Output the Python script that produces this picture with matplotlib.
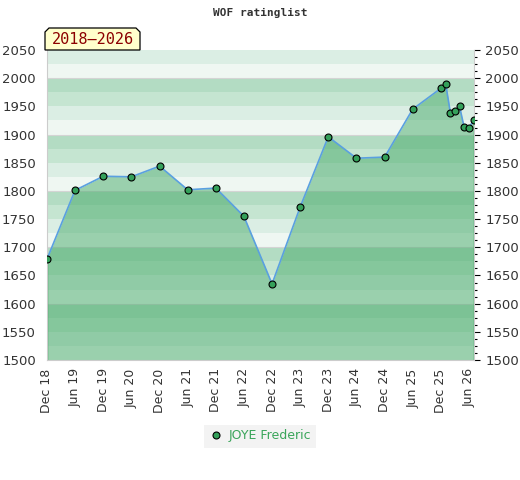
import datetime as dt
import matplotlib
matplotlib.use('Agg')
import matplotlib.pyplot as plt
import matplotlib.dates as mdates
from matplotlib.patches import Polygon
from matplotlib.ticker import MultipleLocator

# rating history of the player
months = ['2018-12', '2019-06', '2019-12', '2020-06', '2020-12', '2021-06',
          '2021-12', '2022-06', '2022-12', '2023-06', '2023-12', '2024-06',
          '2024-12', '2025-06', '2025-12', '2026-01', '2026-02', '2026-03',
          '2026-04', '2026-05', '2026-06', '2026-07']
ratings = [1679, 1801, 1826, 1825, 1844, 1802, 1805, 1755, 1635, 1771, 1896,
           1858, 1860, 1945, 1982, 1990, 1938, 1942, 1950, 1913, 1911, 1926]
player = 'JOYE Frederic'
period = '2018\u20132026'
ymin, ymax = 1500, 2050

dates = [dt.datetime.strptime(m, '%Y-%m') for m in months]

W, H = 520, 480
fig = plt.figure(figsize=(W / 100, H / 100), dpi=100)
ax = fig.add_axes([47 / W, 1 - 360 / H, 427 / W, 310 / H])

# striped background, 25 points per band
band_colors = {75: '#b3dcc3', 50: '#c5e5d1', 25: '#dbeee4', 0: '#eff7f2'}
for lo in range(ymin, ymax, 25):
    ax.axhspan(lo, lo + 25, color=band_colors[lo % 100], lw=0, zorder=0)
for y in range(1600, ymax, 100):
    ax.axhline(y, color='#d4d4d4', lw=0.8, zorder=0.5)

ax.fill_between(dates, ratings, ymin, color='#46aa69', alpha=0.5, lw=0, zorder=1)
ax.vlines([dates[0], dates[-1]], ymin, [ratings[0], ratings[-1]],
          color='#2e9a50', lw=1, zorder=2)
ax.plot(dates, ratings, color='#5aa0e0', lw=1.2, zorder=3)
ax.plot(dates, ratings, 'o', color='#34a05a', mec='black', mew=0.8, ms=5,
        zorder=4, label=player)

ax.set_ylim(ymin, ymax)
ax.set_xlim(dates[0], dates[-1] + dt.timedelta(days=3))
ax.yaxis.set_major_locator(MultipleLocator(50))
ax.yaxis.set_minor_locator(MultipleLocator(12.5))
ax.xaxis.set_major_locator(mdates.MonthLocator(bymonth=[6, 12]))
ax.xaxis.set_major_formatter(mdates.DateFormatter('%b %y'))

ax.tick_params(axis='y', which='major', left=False, right=True, labelleft=True,
               labelright=True, length=4, width=0.8, labelsize=9.5,
               labelcolor='#333333', pad=4)
ax.tick_params(axis='y', which='minor', left=False, right=True, length=2.5, width=0.8)
ax.tick_params(axis='x', length=0, labelsize=9, labelcolor='#333333',
               labelrotation=90, pad=6)
ax.spines['top'].set_visible(False)
for side in ['left', 'bottom', 'right']:
    ax.spines[side].set_color('#cccccc')

fig.text(0.5, 1 - 13 / H, 'WOF ratinglist', ha='center', va='center',
         family='DejaVu Sans Mono', weight='bold', size=8, color='#333333')

# period label, box with clipped top corners
box = [(45, 50), (45, 32), (49, 28), (136, 28), (140, 32), (140, 50)]
fig.patches.append(Polygon([(x / W, 1 - y / H) for x, y in box], closed=True,
                           fc='#ffffcc', ec='black', lw=0.9,
                           transform=fig.transFigure, zorder=5))
fig.text(92.5 / W, 1 - 39.5 / H, period, ha='center', va='center',
         family='DejaVu Sans Mono', size=11, color='#8b0000', zorder=6)

leg = fig.legend(loc='center', bbox_to_anchor=(0.5, 1 - 436 / H), frameon=True,
                 fancybox=False, facecolor='#f0f0f0', edgecolor='none',
                 fontsize=9, handletextpad=0.4, handlelength=1.2)
for t in leg.get_texts():
    t.set_color('#3aa55a')

fig.savefig('out.png', dpi=100)
